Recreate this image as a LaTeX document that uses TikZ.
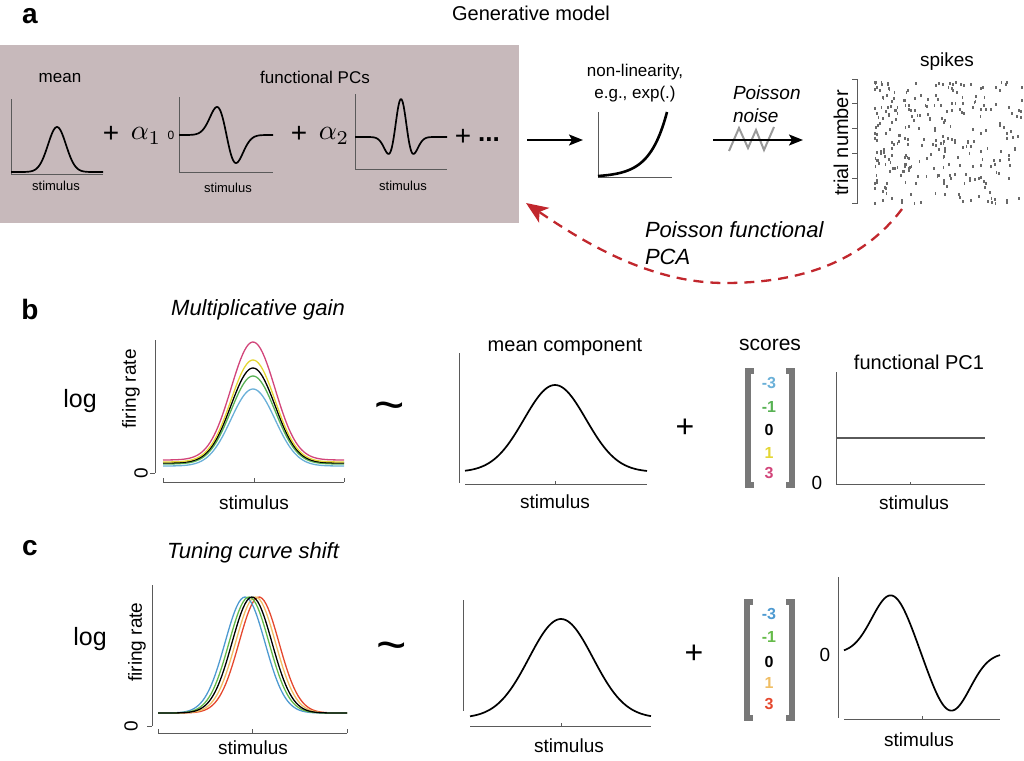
\documentclass[tikz,border=0pt]{standalone}
\usepackage{fontspec}
\setmainfont{Liberation Sans}
\usetikzlibrary{arrows.meta}
\newcommand\fsz[1]{\fontsize{#1}{#1}\selectfont}
\definecolor{boxbg}{RGB}{199,185,187}
\definecolor{axgray}{RGB}{90,90,90}
\definecolor{spk}{RGB}{105,105,105}
\definecolor{brk}{RGB}{120,120,120}
\definecolor{pcaRed}{RGB}{193,39,45}
\definecolor{bPink}{RGB}{210,69,122}
\definecolor{bYel}{RGB}{228,214,52}
\definecolor{bGreen}{RGB}{88,178,84}
\definecolor{bBlue}{RGB}{106,176,216}
\definecolor{cBlue}{RGB}{78,154,209}
\definecolor{cGreen}{RGB}{102,187,74}
\definecolor{cYel}{RGB}{240,190,100}
\definecolor{cRed}{RGB}{229,72,46}
\begin{document}
\begin{tikzpicture}[x=1pt,y=-1pt,
  every node/.style={inner sep=0pt, outer sep=0pt},
  ax/.style={draw=axgray, line width=0.9pt},
  crv/.style={line width=1.7pt, line join=round},
  thincrv/.style={line width=1.3pt, line join=round},
  panel/.style={font=\fsz{28}\bfseries},
  lab/.style={font=\fsz{19}},
  small/.style={font=\fsz{13}},
  it/.style={font=\fsz{22}\itshape},
  score/.style={font=\fsz{16}\bfseries},
  bar/.style={draw=brk, line width=6pt, line cap=butt, line join=miter},
  blackarrow/.style={line width=1.5pt, -{Stealth[length=14pt,width=11pt,inset=3pt]}},
]
\useasboundingbox (0,0) rectangle (1024,760);

% ================= panel a =================
\node[panel] (la) at (30,16) {a};
\node[font=\fsz{20}] (gm) at (531,13) {Generative model};
\node[fill=boxbg, minimum width=519pt, minimum height=178pt, anchor=north west] (box) at (0,45) {};

% mean plot
\node[font=\fsz{17}] (tmean) at (60,78) {mean};
\draw[ax] (11,99) -- (11,174) -- (103,174);
\draw[crv] plot[domain=11:103, samples=80] (\x, {172-45*exp(-(((\x-57)/9)^2)/2)});
\node[small] (s1) at (56,186) {stimulus};
\node[font=\fsz{28}] (p1) at (111,134) {+};
\node[scale=2.8] (a1) at (146,136) {$\alpha_1$};
\node[font=\fsz{12}] (z1) at (171,135) {0};

% PC1 plot
\node[font=\fsz{17}] (tpcs) at (315,77) {functional PCs};
\draw[ax] (179,97) -- (179,172) -- (273,172);
\draw[crv] plot[domain=179:273, samples=100] (\x, {135+46.2*((\x-226.5)/9.5)*exp(-(((\x-226.5)/9.5)^2)/2)});
\node[small] (s2) at (228,188) {stimulus};
\node[font=\fsz{28}] (p2) at (299,134) {+};
\node[scale=2.8] (a2) at (334,136) {$\alpha_2$};

% PC2 plot
\draw[ax] (355,94) -- (355,169) -- (447,169);
\draw[crv] plot[domain=355:447, samples=120] (\x, {137-38*(1-((\x-401)/7.2)^2)*exp(-(((\x-401)/7.2)^2)/2)});
\node[small] (s3) at (403,186) {stimulus};
\node[font=\fsz{28}] (p3) at (463,137) {+};
\node[font=\fsz{26}\bfseries] (dots) at (489,140) {...};

% arrow to nonlinearity
\coordinate (arA) at (527,140);
\coordinate (arB) at (583,140);
\draw[blackarrow] (arA) -- (arB);

% nonlinearity
\node[font=\fsz{17}] (nl1) at (635,72) {non-linearity,};
\node[font=\fsz{17}] (nl2) at (635,94) {e.g., exp(.)};
\draw[ax] (598,112) -- (598,177) -- (672,177);
\draw[line width=2.6pt] plot[domain=598:667, samples=60] (\x, {176-64*(exp(4*(\x-598)/69)-1)/(exp(4)-1)});

% Poisson noise
\node[font=\fsz{19}\itshape, anchor=west] (pn1) at (733,93) {Poisson};
\node[font=\fsz{19}\itshape, anchor=west] (pn2) at (733,116) {noise};
\draw[draw=gray!80, line width=2pt, line join=miter] (729,151) -- (739,128) -- (748,148) -- (756,130) -- (764,150) -- (774,127);
\coordinate (noA) at (713,140);
\coordinate (noB) at (803,140);
\draw[blackarrow] (noA) -- (noB);

% spikes raster
\node[lab] (tsp) at (947,62) {spikes};
\node[font=\fsz{20}, rotate=90] (ttn) at (841,143) {trial number};
\draw[ax, line width=0.7pt] (857,79) -- (857,204);
\foreach \k in {0,...,5} {\draw[ax, line width=0.7pt] (852,79+24.8*\k) -- (857,79+24.8*\k);}
\pgfmathsetseed{11}
\foreach \i in {1,...,290} {
  \pgfmathsetmacro\sx{875+149*(rnd)^1.35}
  \pgfmathsetmacro\sy{82+122*rnd}
  \fill[spk] (\sx-0.9,\sy-1.5) rectangle (\sx+0.9,\sy+1.5);
}

% red dashed arrow
\coordinate (rs) at (902,209);
\coordinate (rm) at (725,283);
\coordinate (re) at (526,203);
\draw[pcaRed, line width=2.3pt, dash pattern=on 10pt off 7pt,
  -{Stealth[length=22pt,width=18pt,inset=6pt]}]
  (rs) .. controls (862,262) and (800,283) .. (rm)
       .. controls (650,283) and (585,243) .. (re);
\node[it, anchor=west] (pf1) at (645,230) {Poisson functional};
\node[it, anchor=west] (pf2) at (645,257) {PCA};

% ================= panel b =================
\node[panel] (lb) at (30,309) {b};
\node[it] (tmg) at (258,310) {Multiplicative gain};
\node[font=\fsz{25}] (logb) at (80,401) {log};
\node[lab, rotate=90] (frb) at (131,389) {firing rate};
\draw[ax] (155,340) -- (155,473);
\draw[ax] (150,473) -- (155,473);
\node[lab, rotate=90] (zb) at (141,473) {0};
\draw[ax] (163,482) -- (344,482);
\foreach \t in {163,254,344} {\draw[ax, line width=0.6pt] (\t,482) -- (\t,478);}
\draw[thincrv, bBlue]  plot[domain=163:344, samples=90] (\x, {466-(466-389)*exp(-(((\x-253)/22)^2)/2)});
\draw[thincrv, bGreen] plot[domain=163:344, samples=90] (\x, {464-(464-376)*exp(-(((\x-253)/22)^2)/2)});
\draw[thincrv, black]  plot[domain=163:344, samples=90] (\x, {463-(463-368)*exp(-(((\x-253)/22)^2)/2)});
\draw[thincrv, bYel]   plot[domain=163:344, samples=90] (\x, {462-(462-360)*exp(-(((\x-253)/22)^2)/2)});
\draw[thincrv, bPink]  plot[domain=163:344, samples=90] (\x, {460-(460-342)*exp(-(((\x-253)/22)^2)/2)});
\node[lab] (sb1) at (254,503) {stimulus};

\node[font=\fsz{52}] (tib) at (390,412) {\textasciitilde};

% mean component
\node[font=\fsz{20}] (tmc) at (565,347) {mean component};
\draw[ax] (459,353) -- (459,483);
\draw[ax] (465,484) -- (647,484);
\draw[ax, line width=0.6pt] (555,484) -- (555,481);
\draw[crv] plot[domain=465:647, samples=90] (\x, {472-87*exp(-(((\x-555)/31)^2)/2)});
\node[lab] (sb2) at (555,502) {stimulus};

\node[font=\fsz{32}] (plb) at (685,428) {+};
\node[font=\fsz{21}] (tsc) at (770,345) {scores};
\draw[bar] (754,371) -- (748,371) -- (748,485) -- (754,485);
\draw[bar] (786,371) -- (792,371) -- (792,485) -- (786,485);
\node[score, bBlue]  (b1) at (769,383) {-3};
\node[score, bGreen] (b2) at (769,407) {-1};
\node[score, black]  (b3) at (769,430) {0};
\node[score, bYel]   (b4) at (769,453) {1};
\node[score, bPink]  (b5) at (769,473) {3};

\node[lab] (zb2) at (817,483) {0};
\node[font=\fsz{20}] (tpc1) at (919,362) {functional PC1};
\draw[ax] (836,372) -- (836,484) -- (985,484);
\draw[ax, line width=0.6pt] (910,484) -- (910,482);
\draw[draw=axgray, line width=2pt] (836,438) -- (985,438);
\node[lab] (sb3) at (914,503) {stimulus};

% ================= panel c =================
\node[panel] (lc) at (30,548) {c};
\node[it] (tcs) at (253,553) {Tuning curve shift};
\node[font=\fsz{25}] (logc) at (90,639) {log};
\node[lab, rotate=90] (frc) at (137,642) {firing rate};
\draw[ax] (152,585) -- (152,726);
\draw[ax] (147,726) -- (152,726);
\node[lab, rotate=90] (zc) at (131,726) {0};
\draw[ax] (158,733) -- (347,733);
\foreach \t in {158,252,347} {\draw[ax, line width=0.6pt] (\t,733) -- (\t,729);}
\draw[thincrv, cRed]   plot[domain=158:347, samples=90] (\x, {713-116*exp(-(((\x-259)/20)^2)/2)});
\draw[thincrv, cYel]   plot[domain=158:347, samples=90] (\x, {713-116*exp(-(((\x-255.5)/20)^2)/2)});
\draw[thincrv, cBlue]  plot[domain=158:347, samples=90] (\x, {713-116*exp(-(((\x-245)/20)^2)/2)});
\draw[thincrv, cGreen] plot[domain=158:347, samples=90] (\x, {713-116*exp(-(((\x-249)/20)^2)/2)});
\draw[thincrv, black]  plot[domain=158:347, samples=90] (\x, {713-116*exp(-(((\x-252)/20)^2)/2)});
\node[lab] (sc1) at (253,748) {stimulus};

\node[font=\fsz{52}] (tic) at (392,652) {\textasciitilde};

\draw[ax] (463,600) -- (463,711);
\draw[ax] (470,726) -- (651,726);
\draw[ax, line width=0.6pt] (561,726) -- (561,723);
\draw[crv] plot[domain=470:651, samples=90] (\x, {718-99*exp(-(((\x-561)/32)^2)/2)});
\node[lab] (sc2) at (569,746) {stimulus};

\node[font=\fsz{32}] (plc) at (694,654) {+};
\draw[bar] (753,602) -- (747,602) -- (747,718) -- (753,718);
\draw[bar] (786,602) -- (792,602) -- (792,718) -- (786,718);
\node[score, cBlue]  (c1) at (769,614) {-3};
\node[score, cGreen] (c2) at (769,637) {-1};
\node[score, black]  (c3) at (769,662) {0};
\node[score, cYel]   (c4) at (769,683) {1};
\node[score, cRed]   (c5) at (769,704) {3};

\node[lab] (zc2) at (825,655) {0};
\draw[ax] (838,577) -- (838,718);
\draw[ax] (844,719) -- (1000,719);
\draw[ax, line width=0.6pt] (922,719) -- (922,716);
\draw[crv] plot[domain=844:1000, samples=140] (\x, {653-58*(exp(-(((\x-891)/19)^2)/2)-exp(-(((\x-951)/19)^2)/2))});
\node[lab] (sc3) at (919,740) {stimulus};
\end{tikzpicture}
\end{document}
